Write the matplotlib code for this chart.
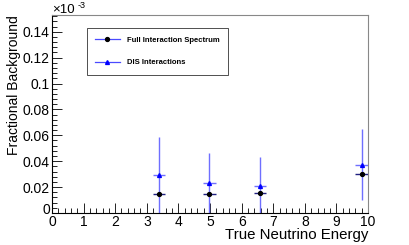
import matplotlib
matplotlib.use("Agg")
import matplotlib.pyplot as plt
from matplotlib.ticker import MultipleLocator
from matplotlib.lines import Line2D
from matplotlib.transforms import ScaledTranslation

plt.rcParams['font.family'] = ['Liberation Sans', 'DejaVu Sans']

energy = [3.39, 4.98, 6.58, 9.80]
energy_err = [0.2, 0.2, 0.2, 0.2]
full_frac = [0.0144, 0.0144, 0.0152, 0.0301]
dis_frac = [0.0290, 0.0230, 0.0210, 0.0373]
dis_err = [0.0300, 0.0233, 0.0222, 0.0275]

fig = plt.figure(figsize=(4.09, 2.45), dpi=100)
ax = fig.add_axes([0.127, 0.131, 0.773, 0.808])

# DIS series (blue triangles, light blue bars)
ax.errorbar(energy, dis_frac, xerr=energy_err, yerr=dis_err, fmt='^',
            color='#0000ff', ecolor='#6f6fff', ms=2.8, elinewidth=1.0,
            capsize=0)
# full spectrum (black dots, dark blue bars)
ax.errorbar(energy, full_frac, xerr=energy_err, fmt='o', color='black',
            ecolor='#202080', ms=2.8, elinewidth=1.0, capsize=0)

ax.set_xlim(0, 10)
ax.set_ylim(0, 0.153)
ax.xaxis.set_major_locator(MultipleLocator(1))
ax.xaxis.set_minor_locator(MultipleLocator(0.2))
ax.yaxis.set_minor_locator(MultipleLocator(0.004))
ax.set_yticks([0, 0.02, 0.04, 0.06, 0.08, 0.1, 0.12, 0.14])
ax.set_yticklabels(['0', '0.02', '0.04', '0.06', '0.08', '0.1', '0.12', '0.14'])
ax.tick_params(which='major', direction='in', length=7, width=0.6,
               labelsize=10, top=False, right=False)
ax.tick_params(axis='x', which='major', pad=1.5)
ax.tick_params(axis='y', which='major', pad=1.5)
ax.tick_params(which='minor', direction='in', length=3.5, width=0.6,
               top=False, right=False)
# nudge the y "0" up a little so it doesn't sit on the x "0"
lab0 = ax.get_yticklabels()[0]
lab0.set_transform(lab0.get_transform() +
                   ScaledTranslation(0, 3 / 72, fig.dpi_scale_trans))
for s in ax.spines.values():
    s.set_linewidth(0.8)
ax.spines['top'].set_color('#888888')
ax.spines['right'].set_color('#888888')

ax.set_xlabel('True Neutrino Energy', fontsize=10.8, loc='right', labelpad=-0.5)
ax.set_ylabel('Fractional Background', fontsize=10, loc='top', labelpad=1)
# exponent label, ROOT style
fig.text(52 / 409, 1 - 16 / 245, '\u00d710', fontsize=9.5,
         ha='left', va='bottom')
fig.text(78 / 409, 1 - 1 / 245, '-3', fontsize=6.5, ha='left', va='top')

handles = [Line2D([], [], color='#4a4aff', lw=0.9, marker='o', ms=2.8,
                  mfc='black', mec='black'),
           Line2D([], [], color='#4a4aff', lw=0.9, marker='^', ms=2.8,
                  mfc='#0000ff', mec='#0000ff')]
labels = ['Full Interaction Spectrum', 'DIS Interactions']
leg = ax.legend(handles, labels, loc='upper left',
                bbox_to_anchor=(0.11, 0.935),
                prop={'weight': 'bold', 'size': 5.5}, frameon=True,
                fancybox=False, edgecolor='black', borderpad=1.1,
                labelspacing=2.0, handlelength=3.2, handletextpad=1.0,
                borderaxespad=0)
leg.get_frame().set_linewidth(0.6)

fig.savefig('out.png', dpi=100)
